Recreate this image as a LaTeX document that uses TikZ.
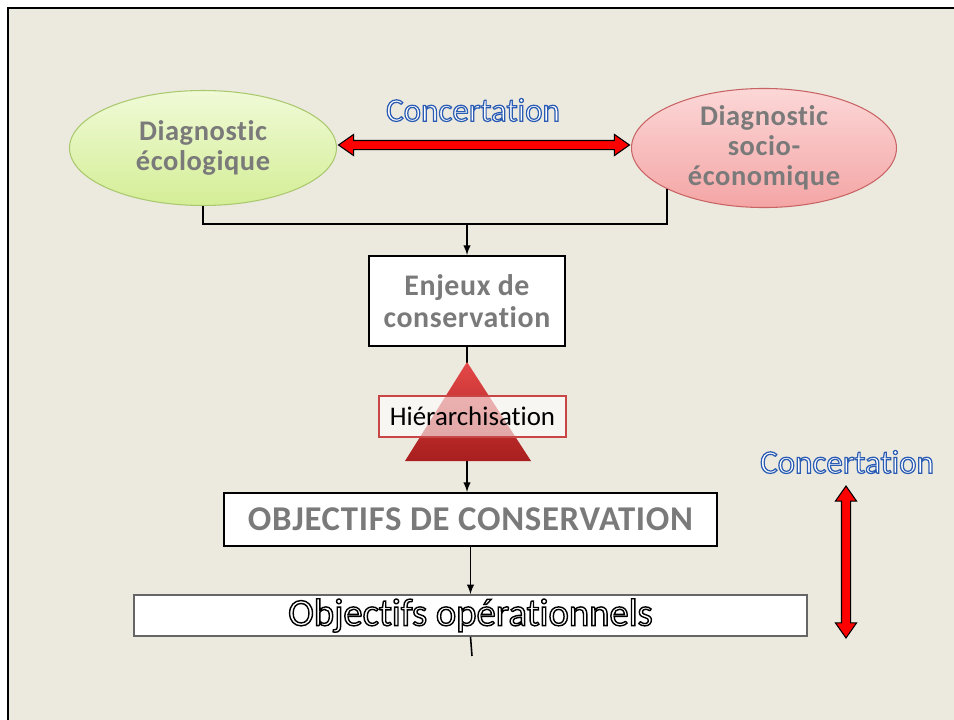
\documentclass[tikz,border=0pt]{standalone}
\usepackage{fontspec}
\setmainfont{Carlito}[Ligatures=NoCommon]
\newfontfamily\espace{Carlito}[Ligatures=NoCommon, LetterSpace=2]
\usepackage{xcolor}
\usepackage{tikz}
\usetikzlibrary{shapes,arrows,calc}

\definecolor{fond}{RGB}{236,233,223}
\definecolor{gristxt}{RGB}{122,122,122}
\definecolor{vertbord}{RGB}{170,200,110}
\definecolor{verthaut}{RGB}{240,250,215}
\definecolor{vertbas}{RGB}{212,238,150}
\definecolor{rosebord}{RGB}{200,100,100}
\definecolor{rosehaut}{RGB}{252,215,215}
\definecolor{rosebas}{RGB}{244,165,165}
\definecolor{rougebord}{RGB}{200,70,70}

% texte creux (contour seul)
\newcommand{\creux}[3]{{\color{white}\special{pdf:literal direct #1 RG 2 Tr #2 w}#3\special{pdf:literal direct 0 Tr}}}

\tikzset{
  bulle/.style 2 args={ellipse, draw=#1, line width=0.6pt, top color=#2, inner sep=0pt,
    align=center, text=gristxt, font=\espace\bfseries\fontsize{16.2}{17}\selectfont},
  boite/.style={draw=black, line width=1.1pt, fill=white, inner sep=0pt, align=center},
  lien/.style={line width=0.9pt},
  fleche/.style={lien, -latex},
  dbl/.style={double arrow, draw=black, fill=red, line width=0.6pt, inner xsep=0pt,
    inner ysep=0.08cm, double arrow head extend=0.12cm, double arrow tip angle=70,
    double arrow head indent=0pt},
  conc/.style={font=\fontsize{18.8}{20}\selectfont, inner sep=0pt}
}

\begin{document}
\begin{tikzpicture}[x=0.02cm,y=-0.02cm]
\useasboundingbox (0,0) rectangle (954,720);
% Fond
\fill[white] (0,0) rectangle (954,720);
\fill[fond] (8,8) rectangle (954,720);
\draw[line width=1.7pt] (8,720) -- (8,8) -- (954,8);

% Diagnostics
\node[bulle={vertbord}{verthaut}, bottom color=vertbas, minimum width=5.34cm, minimum height=2.3cm]
  (eco) at (203,148) {Diagnostic\\écologique};
\node[bulle={rosebord}{rosehaut}, bottom color=rosebas, minimum width=5.3cm, minimum height=2.26cm]
  (socio) at (764,148) {Diagnostic\\socio-\\économique};

% Enjeux
\node[boite, minimum width=3.92cm, minimum height=1.8cm, text=gristxt,
  font=\espace\bfseries\fontsize{17}{18.2}\selectfont] (enjeux) at (467,301) {Enjeux de\\conservation};

% Objectifs
\node[boite, minimum width=9.86cm, minimum height=1.06cm, text=gristxt,
  font=\espace\bfseries\fontsize{19.8}{22}\selectfont] (objcons) at (470.5,519.5) {OBJECTIFS DE CONSERVATION};
\node[boite, draw=black!60, line width=0.9pt, minimum width=13.46cm, minimum height=0.82cm,
  font=\fontsize{22}{23}\selectfont] (objop) at (470.5,615.5) {\creux{0 0 0}{0.8}{Objectifs opérationnels}};

% Liens
\coordinate (jonction) at (467,224);
\coordinate (suite) at (472,656);
\draw[lien] (eco.south) |- (jonction) -| (socio.203);
\draw[fleche] (jonction) -- (enjeux.north);
\draw[fleche] (enjeux.south) -- (objcons.north -| enjeux.south);
\draw[fleche] (objcons.south) -- (objop.north);
\draw[lien] (objop.south) -- (suite);

% Hierarchisation
\shade[top color={rgb,255:red,228;green,72;blue,72}, bottom color={rgb,255:red,168;green,30;blue,30}]
  (467,362) -- (531,461) -- (405,461) -- cycle;
\node[draw=rougebord, line width=1.1pt, fill=white, fill opacity=0.6, text opacity=1,
  minimum width=3.74cm, minimum height=0.82cm, inner sep=0pt,
  font=\fontsize{15.3}{17}\selectfont] (hier) at (472.5,416.5) {Hiérarchisation};

% Concertation
\node[dbl, minimum height=5.82cm] (dblh) at ($(eco.east)!0.5!(socio.west)+(0,-3)$) {};
\node[conc] (conch) at (473,110) {\creux{0.16 0.36 0.70}{0.7}{Concertation}};
\node[dbl, minimum height=3.04cm, rotate=90] (dblv) at (846,562) {};
\node[conc] (concv) at (847,462) {\creux{0.16 0.36 0.70}{0.7}{Concertation}};

\end{tikzpicture}
\end{document}
